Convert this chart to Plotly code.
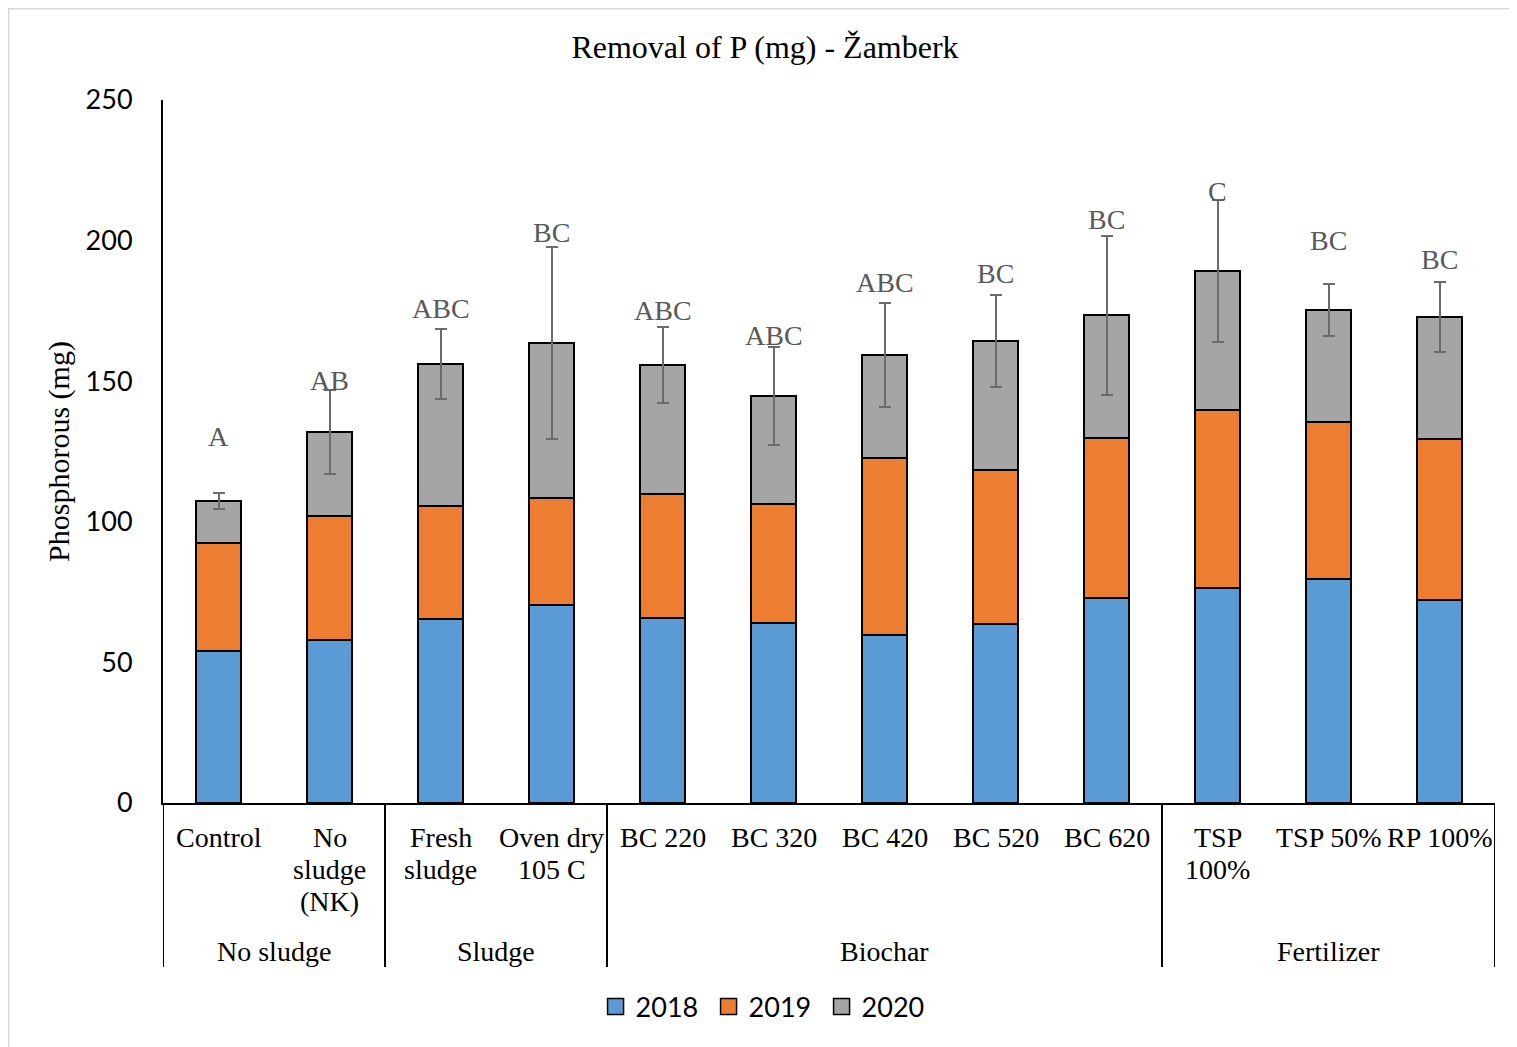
import plotly.graph_objects as go

categories = ["Control", "No<br>sludge<br>(NK)", "Fresh<br>sludge", "Oven dry<br>105 C",
              "BC 220", "BC 320", "BC 420", "BC 520", "BC 620",
              "TSP<br>100%", "TSP 50%", "RP 100%"]
groups = ["No sludge", "No sludge", "Sludge", "Sludge",
          "Biochar", "Biochar", "Biochar", "Biochar", "Biochar",
          "Fertilizer", "Fertilizer", "Fertilizer"]
v2018 = [54.1, 58.0, 65.4, 70.4, 65.8, 64.0, 59.7, 63.7, 72.9, 76.5, 79.7, 72.2]
v2019 = [38.4, 44.1, 40.2, 38.1, 44.1, 42.3, 63.0, 54.8, 56.9, 63.3, 55.8, 57.2]
v2020 = [14.9, 29.8, 50.5, 55.1, 45.9, 38.4, 36.6, 45.9, 43.7, 49.4, 39.8, 43.4]
err2020 = [2.8, 14.8, 12.3, 34.0, 13.4, 17.4, 18.5, 16.4, 28.3, 25.4, 9.4, 12.5]
letters = ["A", "AB", "ABC", "BC", "ABC", "ABC", "ABC", "BC", "BC", "C", "BC", "BC"]
letter_y = [130.5, 150.1, 176.0, 203.0, 175.0, 166.2, 185.0, 188.2, 207.4, 217.6, 200.2, 193.4]
years = ["2018", "2019", "2020"]
colors = ["#5B9BD5", "#ED7D31", "#A5A5A5"]

x = list(range(len(categories)))
serif = "Liberation Serif, Times New Roman, serif"
sans = "Lato, Carlito, Calibri, sans-serif"

W, H = 1509, 1039
L, R, T, B = 155, 22, 92, 244
PW, PH = W - L - R, H - T - B

fig = go.Figure()
for name, vals, col in zip(years, [v2018, v2019, v2020], colors):
    kw = {}
    if name == "2020":
        kw["error_y"] = dict(type="data", array=err2020, visible=True,
                             color="#6b6b6b", thickness=2, width=6)
    fig.add_trace(go.Bar(x=x, y=vals, name=name, marker_color=col, showlegend=False,
                         legendgroup=name,
                         marker_line=dict(color="black", width=2), **kw))
# legend entries with larger square swatches
for name, col in zip(years, colors):
    fig.add_trace(go.Scatter(x=[None], y=[None], mode="markers", name=name,
                             legendgroup=name,
                             marker=dict(symbol="square", size=16, color=col,
                                         line=dict(color="black", width=1.5))))

fig.update_layout(
    barmode="stack", bargap=0.595,
    width=W, height=H,
    margin=dict(l=L, r=R, t=T, b=B),
    plot_bgcolor="white", paper_bgcolor="white",
    title=dict(text="Removal of P (mg) - Žamberk", x=757 / W, xanchor="center",
               y=1 - 39 / H, yanchor="middle",
               font=dict(family=serif, size=32, color="black")),
    legend=dict(orientation="h", x=0.452, xanchor="center", y=-0.29, yanchor="middle",
                font=dict(family=sans, size=27, color="black"), traceorder="normal",
                itemwidth=30, entrywidth=68, entrywidthmode="pixels"),
    showlegend=True,
)
fig.update_yaxes(range=[0, 250], dtick=50, showgrid=False, zeroline=False,
                 showline=True, linecolor="black", linewidth=2, ticks="",
                 ticklabelstandoff=23,
                 tickfont=dict(family=sans, size=27, color="black"),
                 title=dict(text="Phosphorous (mg)", standoff=7,
                            font=dict(family=serif, size=30, color="black")))
fig.update_xaxes(range=[-0.5, len(categories) - 0.5], tickvals=x, showticklabels=False,
                 showgrid=False, zeroline=False, showline=True, linecolor="black",
                 linewidth=2, ticks="")

# category labels, one annotation per line
for xi, cat in zip(x, categories):
    for i, line in enumerate(cat.split("<br>")):
        fig.add_annotation(x=xi, xref="x", y=0, yref="paper", yshift=-(34 + 32 * i),
                           text=line, showarrow=False, yanchor="middle",
                           font=dict(family=serif, size=28, color="black"))

# letters above bars
for xi, lt, ly in zip(x, letters, letter_y):
    fig.add_annotation(x=xi, y=ly, text=lt, showarrow=False, yanchor="middle",
                       font=dict(family=serif, size=28, color="#595959"))

# group labels and dividers
uniq = []
for g in groups:
    if g not in uniq:
        uniq.append(g)
bounds = [-0.5]
for g in uniq:
    idx = [i for i, gg in enumerate(groups) if gg == g]
    fig.add_annotation(x=(idx[0] + idx[-1]) / 2, xref="x", y=-148 / PH, yref="paper",
                       text=g, showarrow=False, yanchor="middle",
                       font=dict(family=serif, size=28, color="black"))
    bounds.append(idx[-1] + 0.5)
for b in bounds:
    fig.add_shape(type="line", xref="x", yref="paper", x0=b, x1=b, y0=0, y1=-164 / PH,
                  line=dict(color="black", width=2))

# outer frame
fig.add_shape(type="rect", xref="paper", yref="paper",
              x0=(0.75 - L) / PW, x1=(W + 5 - L) / PW,
              y0=(PH + T - H - 5) / PH, y1=(PH + T - 0.75) / PH,
              line=dict(color="#d9d9d9", width=1.5))

fig.write_html("out.html")
